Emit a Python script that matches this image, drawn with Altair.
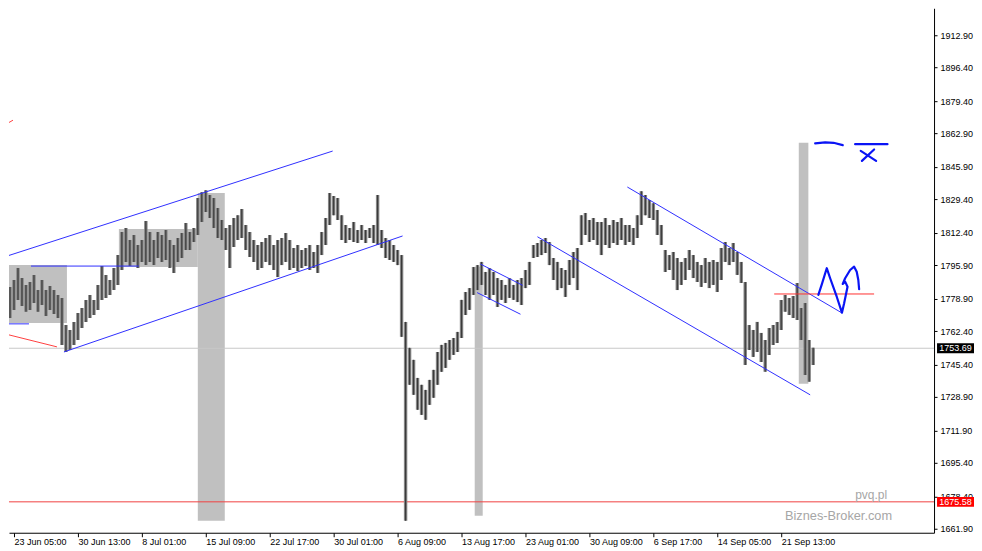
import altair as alt
import pandas as pd

# ---------------- data ----------------
bar_high = [
    1786.9, 1790.4, 1784.9, 1788.4, 1794.5, 1789.4, 1785.9, 1787.4, 1791.0, 1783.3,
    1788.4, 1783.3, 1785.4, 1783.3, 1780.8, 1779.3, 1765.5, 1763.0, 1767.1, 1771.6,
    1774.2, 1778.3, 1780.8, 1778.3, 1785.9, 1795.5, 1791.0, 1788.4, 1794.5, 1801.1,
    1812.8, 1814.8, 1808.7, 1811.3, 1806.2, 1808.7, 1818.4, 1812.8, 1808.7, 1812.8,
    1811.3, 1813.8, 1808.7, 1806.2, 1809.8, 1812.3, 1817.4, 1812.8, 1814.8, 1830.1,
    1833.1, 1834.1, 1831.6, 1830.1, 1825.0, 1818.9, 1814.8, 1816.4, 1819.9, 1821.4,
    1824.5, 1816.4, 1812.8, 1808.7, 1806.2, 1807.7, 1809.8, 1811.3, 1806.2, 1808.7,
    1809.8, 1812.3, 1808.7, 1804.7, 1806.2, 1803.7, 1804.7, 1806.2, 1802.6, 1806.2,
    1812.8, 1819.9, 1832.6, 1831.1, 1830.1, 1821.4, 1816.4, 1814.8, 1817.9, 1813.8,
    1816.4, 1813.8, 1814.8, 1816.4, 1831.6, 1813.8, 1809.8, 1808.7, 1806.2, 1803.7,
    1801.1, 1767.1, 1753.9, 1747.8, 1738.6, 1735.1, 1732.5, 1737.6, 1742.7, 1751.8,
    1755.4, 1756.4, 1757.9, 1758.9, 1762.0, 1778.3, 1782.3, 1784.3, 1795.0, 1796.0,
    1797.6, 1792.5, 1794.5, 1792.5, 1789.4, 1788.4, 1785.9, 1789.4, 1785.9, 1788.4,
    1789.4, 1793.5, 1797.6, 1806.2, 1807.2, 1808.7, 1809.8, 1807.7, 1799.6, 1797.6,
    1794.5, 1793.5, 1798.6, 1802.6, 1804.7, 1821.4, 1822.5, 1818.9, 1819.9, 1817.9,
    1817.9, 1819.9, 1816.4, 1818.9, 1817.9, 1819.9, 1816.4, 1816.4, 1814.8, 1821.4,
    1833.6, 1831.6, 1829.1, 1827.5, 1824.0, 1816.4, 1803.7, 1801.1, 1802.6, 1799.6,
    1797.6, 1799.6, 1803.7, 1801.1, 1797.6, 1796.0, 1799.6, 1797.6, 1798.6, 1797.6,
    1804.7, 1807.7, 1804.7, 1807.2, 1802.6, 1797.6, 1787.4, 1765.5, 1763.0, 1767.1,
    1761.5, 1757.9, 1764.0, 1765.5, 1767.1, 1778.3, 1780.8, 1779.3, 1780.3, 1786.9,
    1774.2, 1776.7, 1757.9, 1753.9,
]
bar_low = [
    1772.2, 1775.7, 1769.1, 1773.2, 1778.3, 1775.2, 1772.2, 1773.2, 1776.7, 1772.2,
    1775.7, 1770.1, 1773.2, 1771.1, 1769.1, 1755.4, 1751.8, 1752.8, 1755.4, 1757.9,
    1764.0, 1767.1, 1769.1, 1770.6, 1773.2, 1778.3, 1779.3, 1780.8, 1783.3, 1785.9,
    1793.5, 1797.6, 1795.5, 1797.6, 1794.5, 1797.6, 1796.0, 1797.6, 1796.0, 1799.6,
    1797.6, 1798.6, 1794.5, 1792.0, 1797.6, 1799.6, 1803.7, 1803.7, 1807.7, 1811.3,
    1817.9, 1823.0, 1819.9, 1814.8, 1809.8, 1808.7, 1803.7, 1794.5, 1805.2, 1808.7,
    1809.8, 1803.7, 1800.1, 1797.6, 1793.5, 1794.5, 1797.6, 1796.0, 1793.5, 1789.9,
    1796.0, 1797.6, 1793.5, 1794.5, 1793.0, 1794.5, 1795.5, 1793.5, 1794.5, 1792.0,
    1801.1, 1806.2, 1816.4, 1821.4, 1818.9, 1808.7, 1807.2, 1808.7, 1807.7, 1807.2,
    1808.7, 1807.2, 1809.8, 1807.2, 1806.2, 1804.7, 1799.6, 1798.6, 1797.6, 1796.0,
    1759.5, 1666.0, 1735.1, 1730.0, 1722.4, 1719.8, 1717.3, 1724.9, 1728.5, 1735.1,
    1741.7, 1743.7, 1747.8, 1750.3, 1751.8, 1758.9, 1770.6, 1773.2, 1780.8, 1783.3,
    1785.9, 1780.8, 1778.3, 1780.8, 1774.7, 1778.3, 1776.7, 1779.3, 1778.3, 1777.2,
    1775.7, 1784.3, 1785.9, 1799.6, 1800.1, 1801.1, 1802.1, 1796.0, 1788.4, 1783.3,
    1784.3, 1779.8, 1785.9, 1789.4, 1783.3, 1806.2, 1811.3, 1807.7, 1808.7, 1806.2,
    1801.1, 1806.2, 1804.7, 1807.2, 1806.2, 1808.7, 1806.2, 1807.7, 1806.2, 1809.8,
    1816.4, 1821.4, 1819.9, 1818.9, 1811.3, 1806.2, 1792.5, 1793.5, 1788.4, 1783.3,
    1785.9, 1788.4, 1793.5, 1789.4, 1787.4, 1784.9, 1786.9, 1784.3, 1785.9, 1782.3,
    1788.4, 1797.6, 1796.0, 1797.6, 1791.0, 1786.9, 1745.2, 1752.8, 1749.3, 1751.8,
    1746.7, 1741.7, 1750.3, 1755.4, 1756.4, 1763.0, 1772.2, 1770.6, 1769.1, 1768.1,
    1757.9, 1740.1, 1736.6, 1745.2,
]

tick_index = [3, 19, 35, 51, 67, 83, 99, 115, 131, 147, 163, 179, 195]
tick_labels = ["23 Jun 05:00", "30 Jun 13:00", "8 Jul 01:00", "15 Jul 09:00",
               "22 Jul 17:00", "30 Jul 01:00", "6 Aug 09:00", "13 Aug 17:00",
               "23 Aug 01:00", "30 Aug 09:00", "6 Sep 17:00", "14 Sep 05:00",
               "21 Sep 13:00"]
price_ticks = [1661.90, 1678.40, 1695.40, 1711.90, 1728.90, 1745.40, 1762.40,
               1778.90, 1795.90, 1812.40, 1829.40, 1845.90, 1862.90, 1879.40,
               1896.40, 1912.90]

# grey zones (bar index start/end, price top/bottom)
zone_i1 = [-0.25, 29.25, 49.0, 118.3, 199.4]
zone_i2 = [16.25, 49.0, 55.75, 120.3, 201.8]
zone_top = [1796.0, 1814.3, 1832.6, 1795.2, 1858.2]
zone_bot = [1766.6, 1795.0, 1666.0, 1668.5, 1735.6]

# straight trend lines: name, i1, p1, i2, p2, colour
seg_name = ["up1", "lo1", "h1", "h2", "r1", "r2", "c2u", "c2l", "c3u", "c3l", "r3"]
seg_i1 = [-0.25, 15.5, 7.25, -0.25, -0.25, -0.25, 119.75, 118.9, 156.5, 134.0, 193.25]
seg_p1 = [1799.6, 1751.8, 1795.5, 1766.1, 1866.2, 1761.5, 1796.5, 1782.0, 1835.7, 1810.4, 1781.3]
seg_i2 = [82.75, 100.25, 34.25, 6.75, 2.75, 13.75, 130.3, 129.75, 210.25, 202.25, 218.25]
seg_p2 = [1854.0, 1810.8, 1795.5, 1766.1, 1869.7, 1754.4, 1785.7, 1771.0, 1771.6, 1730.0, 1781.3]
seg_col = ["#2f2fff", "#2f2fff", "#2f2fff", "#2f2fff", "#ff4040", "#ff4040",
           "#2f2fff", "#2f2fff", "#2f2fff", "#2f2fff", "#ff3030"]

# hand drawn strokes
squig_i = [204.3, 205.2, 206.4, 207.25, 208.9, 210.2, 210.75, 211.6, 211.0, 210.4,
           211.0, 212.25, 213.25, 213.9, 214.3, 214.5]
squig_p = [1780.8, 1786.4, 1794.4, 1789.3, 1779.9, 1771.8, 1776.6, 1785.0, 1787.6,
           1786.4, 1789.3, 1793.5, 1795.2, 1792.6, 1788.4, 1783.7]
arc_i = [203.5, 206.0, 208.1, 210.4]
arc_p = [1857.9, 1858.4, 1858.2, 1857.0]
bar_i = [213.5, 221.6]
bar_p = [1857.5, 1857.5]
x1_i = [214.9, 218.75]
x1_p = [1854.1, 1849.0]
x2_i = [218.25, 215.2]
x2_p = [1854.8, 1849.0]

last_price = 1753.69
level_price = 1675.58

# ---------------- tables ----------------
bars = pd.DataFrame({"i": list(range(len(bar_high))), "high": bar_high, "low": bar_low})
zones = pd.DataFrame({"i1": zone_i1, "i2": zone_i2, "top": zone_top, "bot": zone_bot})

rows = []
for n, a, b, c, d, col in zip(seg_name, seg_i1, seg_p1, seg_i2, seg_p2, seg_col):
    rows.append({"seg": n, "k": 0, "i": a, "p": b, "col": col})
    rows.append({"seg": n, "k": 1, "i": c, "p": d, "col": col})
lines = pd.DataFrame(rows)

hrows = []
for n, xs_, ps_ in [("squig", squig_i, squig_p), ("arc", arc_i, arc_p),
                    ("bar", bar_i, bar_p), ("x1", x1_i, x1_p), ("x2", x2_i, x2_p)]:
    for k, (a, b) in enumerate(zip(xs_, ps_)):
        hrows.append({"seg": n, "k": k, "i": a, "p": b})
hand = pd.DataFrame(hrows)

levels = pd.DataFrame({"p": [last_price, level_price],
                       "col": ["#c8c8c8", "#f04040"],
                       "bg": ["#000000", "#ff0000"]})

# ---------------- scales / axes ----------------
FONT = "Liberation Sans"
xs = alt.Scale(domain=[1.75, 233.25], nice=False, zero=False)
ys = alt.Scale(domain=[1659.86, 1926.62], nice=False, zero=False)
label_arr = "[" + ",".join("'" + t + "'" for t in tick_labels) + "]"
AX = alt.Axis(orient="bottom", values=tick_index, title=None, grid=False,
              labelExpr=label_arr + "[round((datum.value - 3) / 16)]",
              labelAlign="left", labelFlush=False, labelOverlap=False, labelBound=False,
              labelFont=FONT, labelFontSize=9, labelColor="#000000", labelPadding=1,
              tickSize=4, tickColor="#000000", domainColor="#000000")
AY = alt.Axis(orient="right", values=price_ticks, format=".2f", title=None, grid=False,
              labelOverlap=False, labelFont=FONT, labelFontSize=9, labelColor="#000000",
              labelPadding=3, tickSize=3, tickColor="#000000", domainColor="#000000")


def X(f):
    return alt.X(f, type="quantitative", scale=xs, axis=AX)


def Y(f):
    return alt.Y(f, type="quantitative", scale=ys, axis=AY)


zone_layer = alt.Chart(zones).mark_rect(color="#c0c0c0", clip=True).encode(
    x=X("i1"), x2="i2", y=Y("top"), y2="bot")

level_lines = alt.Chart(levels).mark_rule(strokeWidth=1).encode(
    y=Y("p"), color=alt.Color("col:N", scale=None))

bar_body = alt.Chart(bars).transform_calculate(
    a="datum.i - 0.43", b="datum.i + 0.43"
).mark_rect(color="#858585", clip=True).encode(
    x=X("a"), x2="b", y=Y("high"), y2="low")

bar_line = alt.Chart(bars).mark_rule(color="#3a3a3a", strokeWidth=1.2, clip=True).encode(
    x=X("i"), y=Y("high"), y2="low")

trend = alt.Chart(lines).mark_line(strokeWidth=1, clip=True).encode(
    x=X("i"), y=Y("p"), detail="seg:N", order="k:Q",
    color=alt.Color("col:N", scale=None))

hand_layer = alt.Chart(hand).mark_line(strokeWidth=2.2, color="#0a14f5", clip=True,
                                       strokeCap="round", strokeJoin="round").encode(
    x=X("i"), y=Y("p"), detail="seg:N", order="k:Q")

wm1 = alt.Chart(levels.head(1)).mark_text(text="pvq.pl", align="right", baseline="middle",
                                         font=FONT, fontSize=12, color="#a6a6a6").encode(
    x=alt.value(879), y=alt.value(487))
wm2 = alt.Chart(levels.head(1)).mark_text(text="Biznes-Broker.com", align="right",
                                         baseline="middle", font=FONT, fontSize=12.8,
                                         color="#a6a6a6").encode(
    x=alt.value(884), y=alt.value(508))

box = alt.Chart(levels).transform_calculate(
    t="datum.p + 2.5", b="datum.p - 2.5"
).mark_rect().encode(
    x=alt.value(929), x2=alt.value(966), y=Y("t"), y2="b",
    color=alt.Color("bg:N", scale=None))
box_text = alt.Chart(levels).mark_text(align="center", baseline="middle", font=FONT,
                                      fontSize=9, color="#ffffff").encode(
    x=alt.value(947.5), y=Y("p"), text=alt.Text("p:Q", format=".2f"))

chart = alt.layer(zone_layer, level_lines, bar_body, bar_line, trend, hand_layer,
                  wm1, wm2, box, box_text).properties(
    width=926, height=525,
    padding={"left": 0, "top": 0, "right": 0, "bottom": 0},
    background="#ffffff",
).configure_view(stroke=None)

chart.save("out.html", embed_options={"renderer": "svg", "actions": False})
